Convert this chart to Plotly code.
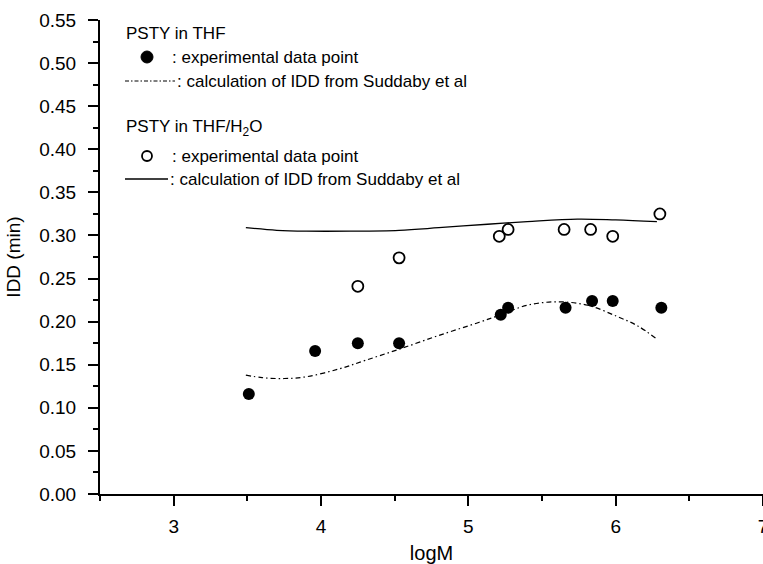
import plotly.graph_objects as go

# PSTY in THF: measured IDD
thf_logM = [3.51, 3.96, 4.25, 4.53, 5.22, 5.27, 5.66, 5.84, 5.98, 6.31]
thf_idd = [0.116, 0.166, 0.175, 0.175, 0.208, 0.216, 0.216, 0.224, 0.224, 0.216]

# PSTY in THF/H2O: measured IDD
mix_logM = [4.25, 4.53, 5.21, 5.27, 5.65, 5.83, 5.98, 6.30]
mix_idd = [0.241, 0.274, 0.299, 0.307, 0.307, 0.307, 0.299, 0.325]

# IDD calculated after Suddaby et al (THF)
calc_thf_logM = [3.49, 3.6, 3.75, 3.9, 4.12, 4.3, 4.53, 4.8, 5.07, 5.22, 5.4, 5.6, 5.81, 6.01, 6.15, 6.27]
calc_thf_idd = [0.138, 0.135, 0.134, 0.136, 0.145, 0.155, 0.168, 0.184, 0.199, 0.208, 0.219, 0.223, 0.219, 0.206, 0.195, 0.181]

# IDD calculated after Suddaby et al (THF/H2O)
calc_mix_logM = [3.49, 3.7, 3.9, 4.2, 4.53, 4.8, 5.13, 5.4, 5.74, 6.0, 6.28]
calc_mix_idd = [0.309, 0.306, 0.305, 0.305, 0.306, 0.309, 0.313, 0.316, 0.319, 0.318, 0.316]

FONT = "Liberation Sans, Arial, sans-serif"

fig = go.Figure()

fig.add_trace(go.Scatter(
    x=calc_mix_logM, y=calc_mix_idd, mode="lines",
    line=dict(color="black", width=1.3, shape="spline"),
))
fig.add_trace(go.Scatter(
    x=calc_thf_logM, y=calc_thf_idd, mode="lines",
    line=dict(color="black", width=1.2, shape="spline", dash="5px,3px,1.5px,3px"),
))
fig.add_trace(go.Scatter(
    x=thf_logM, y=thf_idd, mode="markers",
    marker=dict(symbol="circle", size=12, color="black"),
))
fig.add_trace(go.Scatter(
    x=mix_logM, y=mix_idd, mode="markers",
    marker=dict(symbol="circle-open", size=11, color="black", line=dict(width=1.8)),
))

# Figure geometry (pixels) used to place the in-plot key
W, H = 763, 564
ML, MR, MT, MB = 100, 0, 20, 70
PW, PH = W - ML - MR, H - MT - MB


def px(xp):
    return (xp - ML) / PW


def py(yp):
    return (H - MB - yp) / PH


key_text = [
    (124, 33, "PSTY in THF"),
    (170, 57, ": experimental data point"),
    (175, 81, ": calculation of IDD from Suddaby et al"),
    (124, 128, "PSTY in THF/H<sub>2</sub>O"),
    (170, 156, ": experimental data point"),
    (168, 179, ": calculation of IDD from Suddaby et al"),
]
for xp, yp, txt in key_text:
    fig.add_annotation(
        x=px(xp), y=py(yp), xref="paper", yref="paper",
        xanchor="left", yanchor="middle", showarrow=False,
        text=txt, font=dict(family=FONT, size=17, color="black"),
    )

# key samples: markers
fig.add_shape(type="circle", xref="paper", yref="paper",
              xsizemode="pixel", ysizemode="pixel",
              xanchor=px(147), yanchor=py(57), x0=-6, x1=6, y0=-6, y1=6,
              fillcolor="black", line=dict(color="black", width=1))
fig.add_shape(type="circle", xref="paper", yref="paper",
              xsizemode="pixel", ysizemode="pixel",
              xanchor=px(147), yanchor=py(156), x0=-5, x1=5, y0=-5, y1=5,
              fillcolor="white", line=dict(color="black", width=1.8))
# key samples: lines
fig.add_shape(type="line", xref="paper", yref="paper",
              x0=px(125), x1=px(175), y0=py(81), y1=py(81),
              line=dict(color="black", width=1.2, dash="4px,2px,1.5px,2px"))
fig.add_shape(type="line", xref="paper", yref="paper",
              x0=px(125), x1=px(168), y0=py(179), y1=py(179),
              line=dict(color="black", width=1.3))

fig.update_layout(
    width=W, height=H,
    margin=dict(l=ML, r=MR, t=MT, b=MB, pad=0),
    paper_bgcolor="white", plot_bgcolor="white",
    showlegend=False,
    font=dict(family=FONT, color="black"),
)

fig.update_xaxes(
    range=[2.5, 7.0], tick0=0, dtick=1, automargin=False,
    showgrid=False, zeroline=False,
    showline=True, linecolor="black", linewidth=2,
    ticks="outside", ticklen=10, tickwidth=2, tickcolor="black",
    minor=dict(dtick=0.5, ticks="outside", ticklen=5, tickwidth=1.5, tickcolor="black"),
    tickfont=dict(family=FONT, size=19, color="black"),
    ticklabelstandoff=4, ticklabeloverflow="allow",
    title=dict(text="logM", font=dict(family=FONT, size=20, color="black"), standoff=16),
)
fig.update_yaxes(
    range=[0, 0.55], tick0=0, dtick=0.05, tickformat=".2f", automargin=False,
    showgrid=False, zeroline=False,
    showline=True, linecolor="black", linewidth=2,
    ticks="outside", ticklen=10, tickwidth=2, tickcolor="black",
    minor=dict(dtick=0.025, ticks="outside", ticklen=5, tickwidth=1.5, tickcolor="black"),
    tickfont=dict(family=FONT, size=19, color="black"),
    ticklabelstandoff=8,
    title=dict(text="IDD (min)", font=dict(family=FONT, size=19, color="black"), standoff=14),
)

fig.write_html("out.html")
